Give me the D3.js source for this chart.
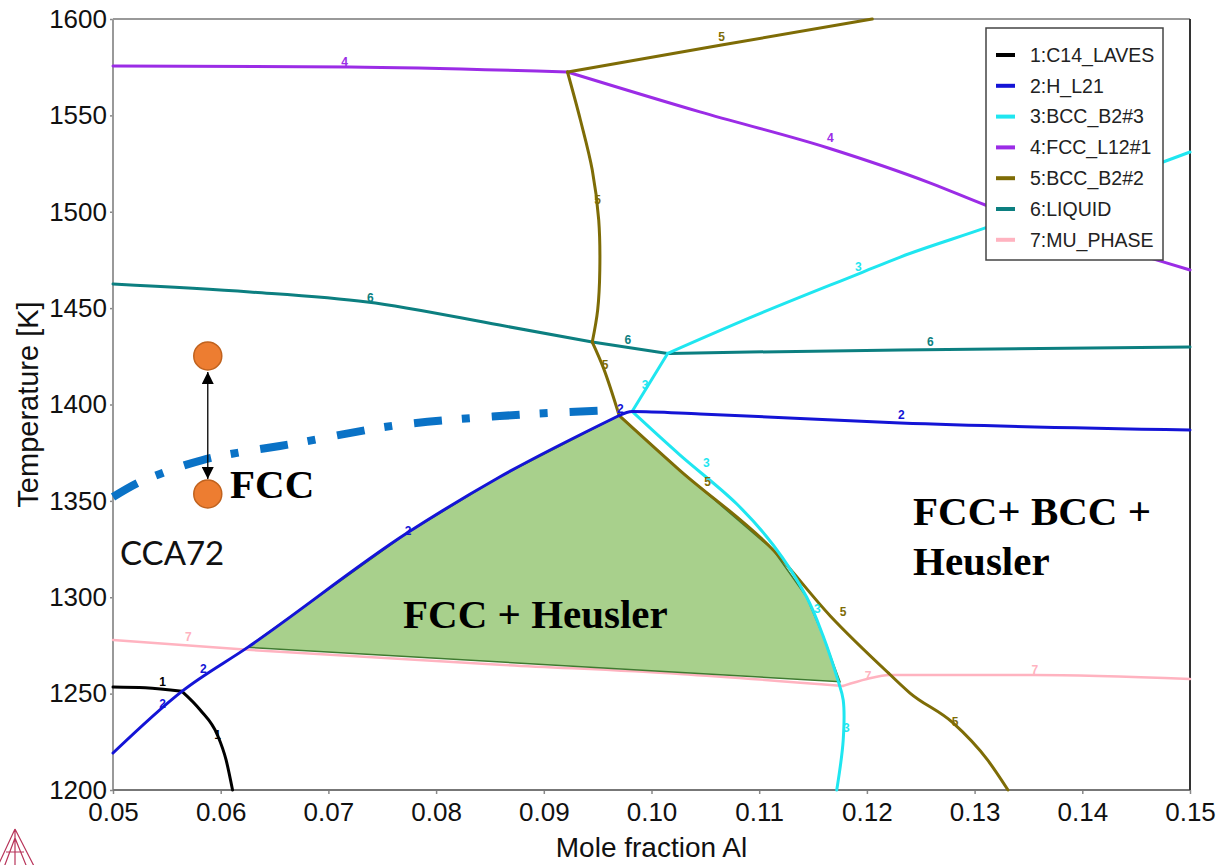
<!DOCTYPE html>
<html>
<head>
<meta charset="utf-8">
<script src="https://cdn.jsdelivr.net/npm/d3@7"></script>
<style>
  body { margin: 0; background: #fff; }
  svg { display: block; }
</style>
</head>
<body>
<div id="chart"></div>
<script>
// Phase diagram data (x = mole fraction Al, y = T in K)
var xTicks = [0.05, 0.06, 0.07, 0.08, 0.09, 0.10, 0.11, 0.12, 0.13, 0.14, 0.15];
var yTicks = [1200, 1250, 1300, 1350, 1400, 1450, 1500, 1550, 1600];

var phaseNames = ["1:C14_LAVES", "2:H_L21", "3:BCC_B2#3", "4:FCC_L12#1", "5:BCC_B2#2", "6:LIQUID", "7:MU_PHASE"];
var phaseColors = ["#000000", "#1414d6", "#1fe6f0", "#9b2ce6", "#7e6c06", "#0c7f80", "#ffb3c0"];

var lavesLine = [
  [[0.05, 1253.4], [0.053, 1253], [0.0564, 1251.2]],
  [[0.0564, 1251.2], [0.0581, 1241.5], [0.0597, 1228.5], [0.0605, 1215.6], [0.0611, 1200]]
];
var heuslerLine = [
  [[0.05, 1219.2], [0.0564, 1251.2], [0.0625, 1274], [0.0773, 1333.3], [0.0859, 1362.4], [0.097, 1394.3]],
  [[0.097, 1394.3], [0.0982, 1396.4], [0.1045, 1395.1], [0.1231, 1390.4], [0.15, 1386.8]]
];
var bcc3Line = [
  [[0.0982, 1396.4], [0.1015, 1426.5]],
  [[0.1015, 1426.5], [0.1091, 1444.9], [0.1194, 1468.2], [0.1231, 1476.5], [0.131, 1491.6], [0.1475, 1525.8], [0.15, 1531]],
  [[0.0982, 1396.4], [0.1026, 1374], [0.1079, 1348.5], [0.1113, 1327.1], [0.1144, 1300.1], [0.1159, 1280.4], [0.1173, 1257.1], [0.1178, 1246.7], [0.1178, 1225.9], [0.1172, 1200]]
];
var fccL12Line = [
  [[0.05, 1575.6], [0.072, 1575.1], [0.0922, 1572.5]],
  [[0.0922, 1572.5], [0.1045, 1551.8], [0.1164, 1533.1], [0.1259, 1514.9], [0.131, 1503.5], [0.1475, 1474], [0.15, 1469.8]]
];
var bcc2Line = [
  [[0.0922, 1572.5], [0.1065, 1586.5], [0.1205, 1600]],
  [[0.0922, 1572.5], [0.0934, 1547.6], [0.0945, 1521.7], [0.0951, 1495.7], [0.0952, 1469.8], [0.095, 1449], [0.0945, 1432.4]],
  [[0.0945, 1432.4], [0.0955, 1419.5], [0.097, 1394.3]],
  [[0.097, 1394.3], [0.1026, 1366], [0.1113, 1324.5], [0.1166, 1290.3], [0.122, 1260.7]],
  [[0.122, 1260.7], [0.124, 1250.3], [0.128, 1234.8], [0.1312, 1215.6], [0.1331, 1200]]
];
var liquidLine = [
  [[0.05, 1462.5], [0.0627, 1458.4], [0.0736, 1453.2], [0.0859, 1441.2], [0.0945, 1432.4]],
  [[0.0945, 1432.4], [0.1015, 1426.5]],
  [[0.1015, 1426.5], [0.1091, 1427.2], [0.1231, 1428.3], [0.15, 1429.8]]
];
var muLine = [
  [[0.05, 1277.8], [0.0625, 1272.7], [0.0859, 1265], [0.1026, 1260.2], [0.1178, 1254]],
  [[0.1178, 1254], [0.12, 1257.6], [0.1221, 1259.7], [0.1354, 1259.7], [0.15, 1257.6]]
];

// numbered labels sitting on the lines: [phase, x, T]
var lineLabels = [
  [4, 0.0715, 1577.7], [4, 0.1166, 1538.3],
  [5, 0.1065, 1590.7], [5, 0.095, 1506.1], [5, 0.0957, 1420.5], [5, 0.1052, 1359.8], [5, 0.1178, 1292.3], [5, 0.1282, 1235.3],
  [6, 0.0739, 1455.3], [6, 0.0978, 1433.5], [6, 0.1259, 1432.4],
  [3, 0.1192, 1471.3], [3, 0.0994, 1410.1], [3, 0.1051, 1369.6], [3, 0.1154, 1293.9], [3, 0.1181, 1232.2],
  [2, 0.0774, 1334.4], [2, 0.0584, 1262.8], [2, 0.0546, 1244.6], [2, 0.0971, 1397.7], [2, 0.1232, 1394.6],
  [1, 0.0546, 1256], [1, 0.0597, 1228.5],
  [7, 0.057, 1279.4], [7, 0.1201, 1259.1], [7, 0.1356, 1262.3]
];

// shaded FCC + Heusler field
var fccHeuslerField = [[0.0625, 1274], [0.0773, 1333.3], [0.0859, 1362.4], [0.097, 1394.3],
  [0.1026, 1366], [0.1113, 1324.5], [0.1144, 1300.1], [0.1159, 1280.4], [0.1175, 1256.2]];

// FCC solvus (dash-dot) and the CCA72 heat treatment points
var fccSolvus = [[0.05, 1352], [0.0523, 1359.3], [0.0546, 1364.5], [0.0583, 1371.2], [0.062, 1375.4],
  [0.0655, 1378.5], [0.0766, 1389.4], [0.0859, 1394], [0.0963, 1397.1]];
var cca72Points = [[0.0588, 1425.2], [0.0588, 1353.6]];

var svgWidth = 1225, svgHeight = 865;
var margin = { top: 19, right: 35, bottom: 75, left: 113 };
var width = svgWidth - margin.left - margin.right;
var height = svgHeight - margin.top - margin.bottom;

var svg = d3.select("#chart").append("svg")
  .attr("width", svgWidth)
  .attr("height", svgHeight);

var g = svg.append("g").attr("transform", `translate(${margin.left},${margin.top})`);

var x = d3.scaleLinear().domain([0.05, 0.15]).range([0, width]);
var y = d3.scaleLinear().domain([1200, 1600]).range([height, 0]);

var lineMono = d3.line().x(d => x(d[0])).y(d => y(d[1])).curve(d3.curveMonotoneX);
var lineSmooth = d3.line().x(d => x(d[0])).y(d => y(d[1])).curve(d3.curveCatmullRom.alpha(0.5));

// monotone in x where the branch allows it, otherwise catmull-rom
function pathFor(s) {
  var mono = s.every((p, i) => i === 0 || p[0] > s[i - 1][0]);
  return mono ? lineMono(s) : lineSmooth(s);
}

// axes
var xAxis = g.append("g")
  .attr("transform", `translate(0,${height})`)
  .call(d3.axisBottom(x).tickValues(xTicks).tickFormat(d3.format(".2f")).tickSize(4).tickPadding(9));
var yAxis = g.append("g")
  .call(d3.axisLeft(y).tickValues(yTicks).tickFormat(d3.format("d")).tickSize(3).tickPadding(3));

[xAxis, yAxis].forEach(function (a) {
  a.selectAll("text").style("font-family", "'Liberation Sans', Arial, sans-serif").style("font-size", "26px").attr("fill", "#111");
  a.selectAll("line").attr("stroke", "#888").attr("stroke-width", 1.5);
  a.select(".domain").remove();
});

// frame
g.append("line").attr("x1", 0).attr("x2", width).attr("y1", 0).attr("y2", 0).attr("stroke", "#999").attr("stroke-width", 2);
g.append("line").attr("x1", 0).attr("x2", 0).attr("y1", 0).attr("y2", height).attr("stroke", "#999").attr("stroke-width", 2);
g.append("line").attr("x1", 0).attr("x2", width).attr("y1", height).attr("y2", height).attr("stroke", "#777").attr("stroke-width", 2);
g.append("line").attr("x1", width).attr("x2", width).attr("y1", 0).attr("y2", height).attr("stroke", "#333").attr("stroke-width", 2);

var plot = g.append("g");

function drawPhase(segs, idx, w) {
  segs.forEach(function (s) {
    plot.append("path")
      .attr("d", pathFor(s))
      .attr("fill", "none")
      .attr("stroke", phaseColors[idx])
      .attr("stroke-width", w)
      .attr("stroke-linejoin", "round")
      .attr("stroke-linecap", "round");
  });
}

drawPhase(muLine, 6, 2.5);

plot.append("path")
  .attr("d", d3.line().x(d => x(d[0])).y(d => y(d[1]))(fccHeuslerField) + "Z")
  .attr("fill", "#a8d08c")
  .attr("stroke", "#3f7a30")
  .attr("stroke-width", 1.5);

drawPhase(lavesLine, 0, 3);
drawPhase(liquidLine, 5, 3);
drawPhase(fccL12Line, 3, 3);
drawPhase(bcc2Line, 4, 3);
drawPhase(bcc3Line, 2, 3);
drawPhase(heuslerLine, 1, 3);

plot.selectAll("text.lbl")
  .data(lineLabels)
  .enter().append("text")
  .attr("class", "lbl")
  .attr("x", d => x(d[1]))
  .attr("y", d => y(d[2]))
  .attr("text-anchor", "middle")
  .attr("dy", "0.35em")
  .style("font-family", "'Liberation Sans', Arial, sans-serif")
  .style("font-size", "12px")
  .style("font-weight", "bold")
  .attr("fill", d => phaseColors[d[0] - 1])
  .text(d => d[0]);

// FCC solvus dash-dot
plot.append("path")
  .attr("d", lineMono(fccSolvus))
  .attr("fill", "none")
  .attr("stroke", "#0a72c6")
  .attr("stroke-width", 8)
  .attr("stroke-dasharray", "28,20,8,22");

// double arrow between the two points
var defs = svg.append("defs");
defs.append("marker").attr("id", "head")
  .attr("viewBox", "0 0 10 10").attr("refX", 10).attr("refY", 5)
  .attr("markerWidth", 12).attr("markerHeight", 12).attr("markerUnits", "userSpaceOnUse")
  .attr("orient", "auto-start-reverse")
  .append("path").attr("d", "M0,0 L10,5 L0,10 Z").attr("fill", "#000");

var r = 14;
plot.append("line")
  .attr("x1", x(cca72Points[0][0])).attr("y1", y(cca72Points[0][1]) + r + 2)
  .attr("x2", x(cca72Points[1][0])).attr("y2", y(cca72Points[1][1]) - r - 1)
  .attr("stroke", "#000").attr("stroke-width", 1.3)
  .attr("marker-start", "url(#head)").attr("marker-end", "url(#head)");

plot.selectAll("circle.pt")
  .data(cca72Points)
  .enter().append("circle")
  .attr("class", "pt")
  .attr("cx", d => x(d[0]))
  .attr("cy", d => y(d[1]))
  .attr("r", r)
  .attr("fill", "#ed7d31")
  .attr("stroke", "#c0621e")
  .attr("stroke-width", 1.5);

// annotations
var serif = "'Liberation Serif', 'Times New Roman', serif";
svg.append("text").attr("x", 230).attr("y", 498).style("font-family", serif).style("font-weight", "bold").style("font-size", "41px").text("FCC");
svg.append("text").attr("x", 403).attr("y", 628).style("font-family", serif).style("font-weight", "bold").style("font-size", "41px").text("FCC + Heusler");
svg.append("text").attr("x", 913).attr("y", 525).style("font-family", serif).style("font-weight", "bold").style("font-size", "41px").text("FCC+ BCC +");
svg.append("text").attr("x", 913).attr("y", 575).style("font-family", serif).style("font-weight", "bold").style("font-size", "41px").text("Heusler");
svg.append("text").attr("x", 120).attr("y", 565).style("font-family", "Lato, 'Open Sans', sans-serif").style("font-size", "33px").attr("fill", "#111").text("CCA72");

// axis titles
svg.append("text")
  .attr("x", margin.left + width / 2).attr("y", 857)
  .attr("text-anchor", "middle")
  .style("font-family", "'Liberation Sans', Arial, sans-serif").style("font-size", "28px")
  .attr("fill", "#111")
  .text("Mole fraction Al");
svg.append("text")
  .attr("transform", `translate(38,${margin.top + height / 2}) rotate(-90)`)
  .attr("text-anchor", "middle")
  .style("font-family", "'Liberation Sans', Arial, sans-serif").style("font-size", "29px")
  .attr("fill", "#111")
  .text("Temperature [K]");

// legend
var legend = svg.append("g");
legend.append("rect")
  .attr("x", 986).attr("y", 28).attr("width", 177).attr("height", 232)
  .attr("fill", "#fff").attr("stroke", "#444").attr("stroke-width", 1.5);
var item = legend.selectAll("g.item")
  .data(phaseNames)
  .enter().append("g")
  .attr("class", "item")
  .attr("transform", (d, i) => `translate(996,${55 + i * 30.8})`);
item.append("line")
  .attr("x1", 0).attr("x2", 19).attr("y1", 0).attr("y2", 0)
  .attr("stroke", (d, i) => phaseColors[i]).attr("stroke-width", 4);
item.append("text")
  .attr("x", 34).attr("dy", "0.35em")
  .style("font-family", "'Liberation Sans', Arial, sans-serif").style("font-size", "19.5px")
  .attr("fill", "#222")
  .text(d => d);

// small logo mark in the corner
var logo = svg.append("g").attr("fill", "none").attr("stroke", "#b8345a").attr("stroke-width", 1.2);
logo.append("path").attr("d", "M15,829 L-4,870 M15,829 L36,870 M15,829 L15,870 M15,838 L3,870 M15,838 L28,870 M6,852 L24,852");
</script>
</body>
</html>
